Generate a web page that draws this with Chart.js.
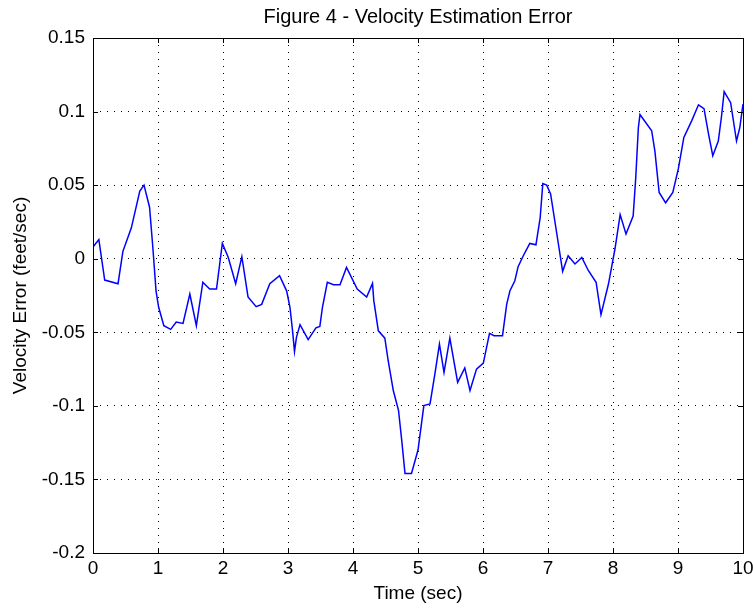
<!DOCTYPE html>
<html>
<head>
<meta charset="utf-8">
<script src="https://cdn.jsdelivr.net/npm/chart.js@4.4.0/dist/chart.umd.min.js"></script>
<style>
  body { margin: 0; background: #fff; }
  canvas { display: block; }
</style>
</head>
<body>
<canvas id="fig4" width="753" height="609"></canvas>
<script>
// time samples (sec) and velocity error (feet/sec)
var timeSec = [0, 0.09, 0.18, 0.385, 0.46, 0.59, 0.72, 0.785, 0.87, 0.92, 0.97, 1.01, 1.09, 1.195, 1.28, 1.385, 1.49, 1.59, 1.69, 1.795, 1.9, 1.99, 2.08, 2.195, 2.29, 2.385, 2.51, 2.595, 2.72, 2.87, 2.98, 3.03, 3.07, 3.1, 3.13, 3.185, 3.31, 3.43, 3.49, 3.53, 3.605, 3.7, 3.8, 3.9, 4.065, 4.21, 4.3, 4.32, 4.39, 4.49, 4.54, 4.62, 4.7, 4.75, 4.8, 4.9, 5.0, 5.09, 5.185, 5.26, 5.33, 5.4, 5.49, 5.61, 5.72, 5.8, 5.9, 6.005, 6.1, 6.17, 6.3, 6.365, 6.415, 6.49, 6.54, 6.62, 6.72, 6.815, 6.88, 6.92, 6.98, 7.04, 7.16, 7.225, 7.31, 7.415, 7.52, 7.62, 7.74, 7.815, 7.93, 8.03, 8.11, 8.2, 8.31, 8.35, 8.39, 8.415, 8.595, 8.645, 8.71, 8.81, 8.92, 9.005, 9.09, 9.21, 9.315, 9.4, 9.47, 9.535, 9.62, 9.67, 9.71, 9.81, 9.9, 9.95, 10.0];
var velErr = [0.008, 0.013, -0.0145, -0.017, 0.005, 0.021, 0.046, 0.05, 0.035, 0.008, -0.022, -0.033, -0.0455, -0.048, -0.043, -0.044, -0.024, -0.0455, -0.016, -0.0206, -0.0206, 0.0104, 0.001, -0.017, 0.0014, -0.026, -0.0326, -0.031, -0.017, -0.0115, -0.022, -0.033, -0.049, -0.063, -0.0534, -0.0448, -0.055, -0.047, -0.046, -0.033, -0.016, -0.0177, -0.0177, -0.0059, -0.0206, -0.026, -0.0168, -0.0285, -0.049, -0.054, -0.069, -0.0896, -0.103, -0.1236, -0.146, -0.146, -0.13, -0.0998, -0.0987, -0.0783, -0.058, -0.0772, -0.054, -0.084, -0.0742, -0.0896, -0.075, -0.071, -0.0507, -0.0523, -0.0523, -0.0308, -0.0217, -0.015, -0.0054, 0.002, 0.0104, 0.0095, 0.028, 0.051, 0.05, 0.044, 0.01, -0.0086, 0.002, -0.0036, 0.0009, -0.008, -0.016, -0.038, -0.0172, 0.0066, 0.03, 0.0168, 0.029, 0.055, 0.089, 0.098, 0.087, 0.073, 0.045, 0.038, 0.045, 0.061, 0.0824, 0.0937, 0.1046, 0.102, 0.0847, 0.07, 0.08, 0.097, 0.1136, 0.106, 0.08, 0.089, 0.105];

var xTicks = [0, 1, 2, 3, 4, 5, 6, 7, 8, 9, 10];
var yTicks = [-0.2, -0.15, -0.1, -0.05, 0, 0.05, 0.1, 0.15];
var yTickLabels = ["-0.2", "-0.15", "-0.1", "-0.05", "0", "0.05", "0.1", "0.15"];

var FONT = "'Liberation Sans', Arial, Helvetica, sans-serif";

// matlab style box: full frame plus short inward tick marks
var boxPlugin = {
    id: "matlabBox",
    afterDraw: function (chart) {
        var a = chart.chartArea, c = chart.ctx;
        var sx = chart.scales.x, sy = chart.scales.y;
        var len = 5;
        c.save();
        c.strokeStyle = "#000";
        c.lineWidth = 1;
        c.setLineDash([]);
        c.beginPath();
        xTicks.forEach(function (t) {
            var px = Math.round(sx.getPixelForValue(t)) + 0.5;
            c.moveTo(px, a.bottom); c.lineTo(px, a.bottom - len);
            c.moveTo(px, a.top); c.lineTo(px, a.top + len);
        });
        yTicks.forEach(function (t) {
            var py = Math.round(sy.getPixelForValue(t)) + 0.5;
            c.moveTo(a.left, py); c.lineTo(a.left + len, py);
            c.moveTo(a.right, py); c.lineTo(a.right - len, py);
        });
        c.stroke();
        c.strokeRect(Math.round(a.left) + 0.5, Math.round(a.top) + 0.5,
            Math.round(a.right - a.left), Math.round(a.bottom - a.top));
        c.restore();
    }
};

var ctx = document.getElementById("fig4").getContext("2d");
var chart = new Chart(ctx, {
    type: "line",
    data: {
        datasets: [
            {
                label: "velocity error",
                data: timeSec.map(function (t, i) { return { x: t, y: velErr[i] }; }),
                borderColor: "#0000ff",
                borderWidth: 1.5,
                pointRadius: 0,
                tension: 0,
                fill: false,
            },
        ],
    },
    options: {
        responsive: false,
        animation: false,
        layout: { padding: { left: 0, right: 10, top: 0, bottom: 0 } },
        scales: {
            x: {
                type: "linear",
                min: 0,
                max: 10,
                afterBuildTicks: function (s) { s.ticks = xTicks.map(function (v) { return { value: v }; }); },
                afterFit: function (s) { s.height = 56; s.paddingLeft = 0; s.paddingRight = 0; },
                ticks: {
                    color: "#000",
                    padding: 4,
                    maxRotation: 0,
                    font: { family: FONT, size: 19 },
                    callback: function (v) { return String(v); },
                },
                grid: { color: "#000", drawTicks: false, borderDash: [1, 6] },
                border: { display: false, dash: [1, 6] },
                title: {
                    display: true,
                    text: "Time (sec)",
                    color: "#000",
                    font: { family: FONT, size: 19 },
                    padding: { top: 0, bottom: 4 },
                },
            },
            y: {
                type: "linear",
                min: -0.2,
                max: 0.15,
                afterBuildTicks: function (s) { s.ticks = yTicks.map(function (v) { return { value: v }; }); },
                afterFit: function (s) { s.width = 93; },
                ticks: {
                    color: "#000",
                    padding: 8,
                    font: { family: FONT, size: 19 },
                    callback: function (v) {
                        var i = yTicks.findIndex(function (t) { return Math.abs(t - v) < 1e-9; });
                        return i >= 0 ? yTickLabels[i] : "";
                    },
                },
                grid: { color: "#000", drawTicks: false },
                border: { display: false, dash: [1, 6] },
                title: {
                    display: true,
                    text: "Velocity Error (feet/sec)",
                    color: "#000",
                    font: { family: FONT, size: 19 },
                    padding: { top: 9, bottom: 0 },
                },
            },
        },
        plugins: {
            legend: { display: false },
            tooltip: { enabled: false },
            title: {
                display: true,
                fullSize: false,
                text: "Figure 4 - Velocity Estimation Error",
                color: "#000",
                font: { family: FONT, size: 20, weight: "normal" },
                padding: { top: 5, bottom: 9 },
            },
        },
    },
    plugins: [boxPlugin],
});
</script>
</body>
</html>
